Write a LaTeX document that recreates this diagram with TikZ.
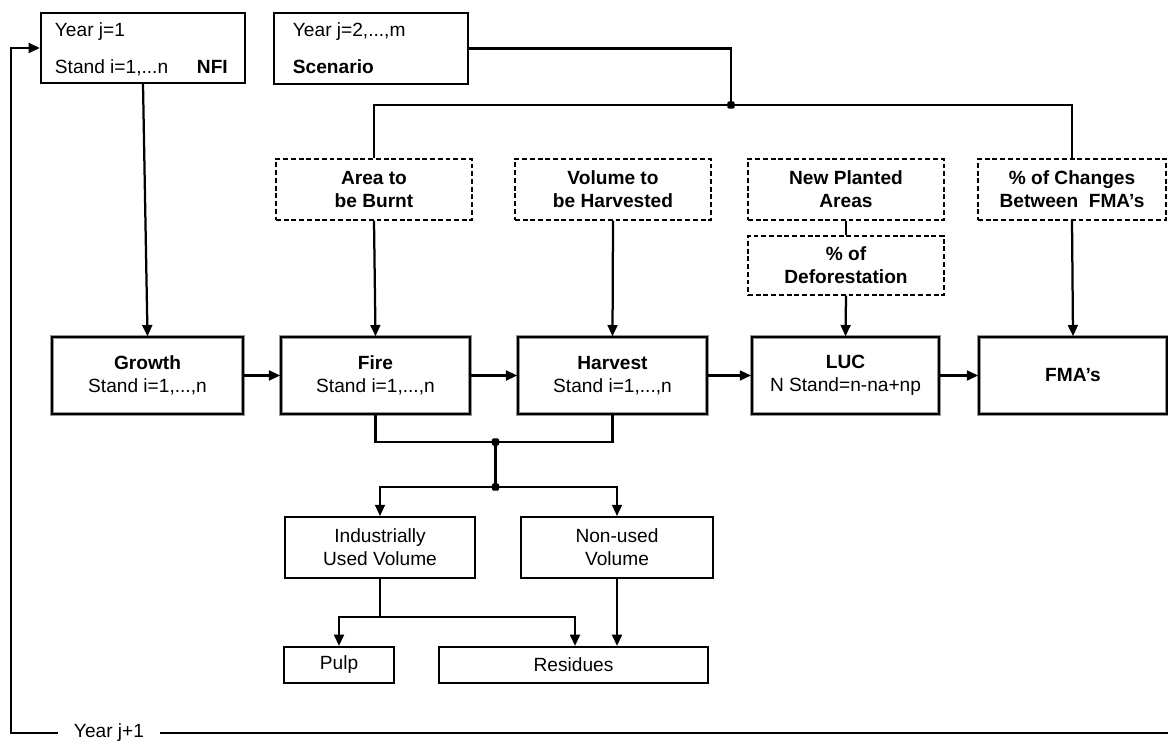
\documentclass[tikz,border=0pt]{standalone}
\usepackage{fontspec}
\setmainfont{Liberation Sans}
\usepackage{tikz}
\usetikzlibrary{arrows.meta,calc}
\definecolor{flowline}{RGB}{0,0,0}
\definecolor{flowshade}{RGB}{150,150,150}

\begin{document}
\begin{tikzpicture}[x=0.025cm,y=-0.025cm,
  every node/.style={font=\fontsize{13.6}{16.4}\selectfont},
  conn/.style={flowline,line width=1.6pt},
  arr/.style={conn,-{Triangle[length=8pt,width=7pt]}},
  inbox/.style={draw,line width=1.5pt,inner sep=0pt,align=center},
  procbox/.style={draw,line width=1.2pt,inner sep=0pt,align=center,
    preaction={draw=flowshade,line width=2.8pt}},
  parbox/.style={draw,line width=0.9pt,dash pattern=on 3.5pt off 2pt,
    inner sep=0pt,align=center,font=\fontsize{13.6}{16.4}\selectfont\bfseries},
  plainbox/.style={draw,line width=1.5pt,inner sep=0pt,align=center},
  jdotst/.style={rectangle,rounded corners=0.8pt,fill=flowline,inner sep=0pt,minimum size=5pt}]
  \useasboundingbox (0,0) rectangle (1168,747);

  % inputs
  \node[inbox,minimum width=5.1cm,minimum height=1.75cm] (nfi) at (143,48) {};
  \node[anchor=base west] (nfiyear) at (50,37) {Year j=1};
  \node[anchor=base west] (nfistand) at (50,74) {Stand i=1,...n};
  \node[anchor=base west,font=\fontsize{13.6}{16.4}\selectfont\bfseries] (nfiname) at (192,74) {NFI};
  \node[inbox,minimum width=4.85cm,minimum height=1.78cm] (scen) at (371,48.5) {};
  \node[anchor=base west] (scenyear) at (288,37) {Year j=2,...,m};
  \node[anchor=base west,font=\fontsize{13.6}{16.4}\selectfont\bfseries] (scenname) at (288,74) {Scenario};

  % scenario parameters
  \node[parbox,minimum width=4.9cm,minimum height=1.52cm] (burnt) at (374,189.5) {Area to\\be Burnt};
  \node[parbox,minimum width=4.9cm,minimum height=1.52cm] (volume) at (613,189.5) {Volume to\\be Harvested};
  \node[parbox,minimum width=4.9cm,minimum height=1.52cm] (planted) at (846,189.5) {New Planted\\Areas};
  \node[parbox,minimum width=4.9cm,minimum height=1.48cm] (defor) at (846,265.5) {\% of\\Deforestation};
  \node[parbox,minimum width=4.7cm,minimum height=1.52cm] (changes) at (1072,189.5) {\% of Changes\\Between~ FMA’s};

  % yearly processes
  \node[procbox,minimum width=4.78cm,minimum height=1.92cm] (growth) at (147.5,375.5) {\textbf{Growth}\\Stand i=1,...,n};
  \node[procbox,minimum width=4.72cm,minimum height=1.92cm] (fire) at (375.5,375.5) {\textbf{Fire}\\Stand i=1,...,n};
  \node[procbox,minimum width=4.72cm,minimum height=1.92cm] (harvest) at (612.5,375.5) {\textbf{Harvest}\\Stand i=1,...,n};
  \node[procbox,minimum width=4.68cm,minimum height=1.92cm] (luc) at (845.5,375.5) {\textbf{LUC}\\N Stand=n-na+np};
  \node[procbox,minimum width=4.7cm,minimum height=1.92cm] (fma) at (1073,375.5) {\textbf{FMA’s}};

  % products
  \node[plainbox,minimum width=4.75cm,minimum height=1.52cm] (indus) at (380,547.5) {Industrially\\Used Volume};
  \node[plainbox,minimum width=4.8cm,minimum height=1.52cm] (nonused) at (617,547.5) {Non-used\\Volume};
  \node[plainbox,minimum width=2.75cm,minimum height=0.9cm] (pulp) at (339,665) {Pulp};
  \node[plainbox,minimum width=6.72cm,minimum height=0.9cm] (resid) at (573.5,665) {Residues};

  % junctions
  \node[jdotst] (sdot) at (731,105) {};
  \node[jdotst] (jdot) at (495.5,442) {};
  \node[jdotst] (kdot) at (495.5,487) {};
  \coordinate (ibranch) at (380,617);
  \coordinate (loopend) at (1168,733);
  \coordinate (loopcorner) at (11,733);
  \node[inner xsep=0.4cm] (yearnext) at (109,733) {Year j+1};

  \draw[conn] (scen.east) -| (sdot.center);
  \draw[conn] (sdot.center) -| (burnt.north);
  \draw[conn] (sdot.center) -| (changes.north);

  \draw[arr] (nfi.south) -- (growth.north);
  \draw[arr] (burnt.south) -- (fire.north);
  \draw[arr] (volume.south) -- (harvest.north);
  \draw[conn] (planted.south) -- (defor.north);
  \draw[arr] (defor.south) -- (luc.north);
  \draw[arr] (changes.south) -- (fma.north);

  \draw[arr] (growth.east) -- (fire.west);
  \draw[arr] (fire.east) -- (harvest.west);
  \draw[arr] (harvest.east) -- (luc.west);
  \draw[arr] (luc.east) -- (fma.west);

  \draw[conn] (fire.south) |- (jdot.center);
  \draw[conn] (harvest.south) |- (jdot.center);
  \draw[conn] (jdot.center) -- (kdot.center);
  \draw[arr] (kdot.center) -| (indus.north);
  \draw[arr] (kdot.center) -| (nonused.north);

  \draw[conn] (indus.south) -- (ibranch);
  \draw[arr] (ibranch) -| (pulp.north);
  \draw[arr] (ibranch) -| ($(resid.north)+(1.5,0)$);
  \draw[arr] (nonused.south) -- (nonused.south |- resid.north);

  \draw[conn] (loopend) -- (yearnext.east);
  \draw[arr] (yearnext.west) -- (loopcorner) |- (nfi.west);
\end{tikzpicture}
\end{document}
